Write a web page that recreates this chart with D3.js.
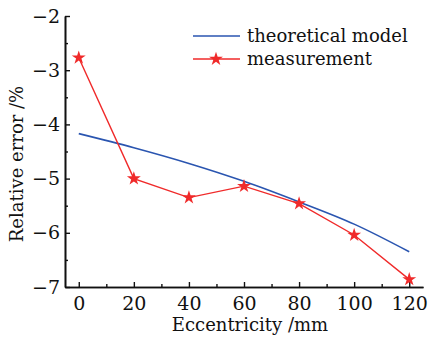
<!DOCTYPE html>
<html>
<head>
<meta charset="utf-8">
<script src="https://cdn.jsdelivr.net/npm/d3@7"></script>
<style>
  body { margin: 0; background: #fff; }
  svg text { font-family: "DejaVu Serif", serif; fill: #111; }
</style>
</head>
<body>
<div id="vis"></div>
<script>
// chart values
const eccentricity = [0, 20, 40, 60, 80, 100, 120]
const theoretical = [-4.17, -4.43, -4.72, -5.05, -5.43, -5.84, -6.35]
const measured = [-2.77, -5.00, -5.35, -5.14, -5.46, -6.04, -6.86]
const xTicks = [0, 20, 40, 60, 80, 100, 120]
const yTicks = [-7, -6, -5, -4, -3, -2]
const seriesNames = ['theoretical model', 'measurement']

const W = 428, H = 337
const margin = {left: 65, top: 16, right: 5, bottom: 50}

const svg = d3.select('#vis').append('svg')
    .attr('width', W)
    .attr('height', H)

const x = d3.scaleLinear([-5, 125], [margin.left, W - margin.right])
const y = d3.scaleLinear([-7, -2], [H - margin.bottom, margin.top])

// axes, ticks point inward
const xAxis = d3.axisBottom(x).tickValues(xTicks).tickSize(-5).tickPadding(10).tickSizeOuter(0)
const xMinor = d3.axisBottom(x).tickValues([10, 30, 50, 70, 90, 110]).tickSize(-3).tickFormat('').tickSizeOuter(0)
const yAxis = d3.axisLeft(y).tickValues(yTicks).tickSize(-5).tickPadding(5).tickSizeOuter(0)
    .tickFormat(d => '\u2212' + Math.abs(d))
const yMinor = d3.axisLeft(y).tickValues([-6.5, -5.5, -4.5, -3.5, -2.5]).tickSize(-3).tickFormat('').tickSizeOuter(0)

function styleAxis(g){
    g.select('.domain').attr('stroke', '#111').attr('stroke-width', 1.6)
    g.selectAll('.tick line').attr('stroke', '#111').attr('stroke-width', 1.4)
    g.selectAll('.tick text').attr('font-size', 19).attr('font-family', '"DejaVu Serif", serif')
}

svg.append('g').attr('transform', `translate(0,${y(-7)})`).call(xMinor).call(styleAxis)
svg.append('g').attr('transform', `translate(0,${y(-7)})`).call(xAxis).call(styleAxis)
svg.append('g').attr('transform', `translate(${x(-5)},0)`).call(yMinor).call(styleAxis)
svg.append('g').attr('transform', `translate(${x(-5)},0)`).call(yAxis).call(styleAxis)

// axis titles
svg.append('text')
    .attr('x', 250)
    .attr('y', 331)
    .attr('text-anchor', 'middle')
    .attr('font-size', 18)
    .text('Eccentricity /mm')

svg.append('text')
    .attr('transform', `translate(23,164) rotate(-90)`)
    .attr('text-anchor', 'middle')
    .attr('font-size', 18)
    .text('Relative error /%')

// lines
const line = d3.line()
    .x(d => x(d[0]))
    .y(d => y(d[1]))

const theoData = eccentricity.map((e, i) => [e, theoretical[i]])
const measData = eccentricity.map((e, i) => [e, measured[i]])

svg.append('path')
    .datum(theoData)
    .attr('d', d3.line().curve(d3.curveMonotoneX).x(d => x(d[0])).y(d => y(d[1])))
    .attr('fill', 'none')
    .attr('stroke', '#2a55b0')
    .attr('stroke-width', 1.6)

svg.append('path')
    .datum(measData)
    .attr('d', line)
    .attr('fill', 'none')
    .attr('stroke', '#f02a2a')
    .attr('stroke-width', 1.4)

const star = d3.symbol().type(d3.symbolStar).size(60)

svg.selectAll('.star')
    .data(measData)
    .enter()
    .append('path')
        .attr('class', 'star')
        .attr('d', star)
        .attr('transform', d => `translate(${x(d[0])},${y(d[1])})`)
        .attr('fill', '#f02a2a')

// legend
const legend = svg.append('g').attr('transform', 'translate(193,36)')
legend.append('line')
    .attr('x1', 0).attr('x2', 47).attr('y1', 0).attr('y2', 0)
    .attr('stroke', '#2a55b0').attr('stroke-width', 1.6)
legend.append('text')
    .attr('x', 54).attr('y', 6)
    .attr('font-size', 18)
    .text(seriesNames[0])
legend.append('line')
    .attr('x1', 0).attr('x2', 47).attr('y1', 23).attr('y2', 23)
    .attr('stroke', '#f02a2a').attr('stroke-width', 1.4)
legend.append('path')
    .attr('d', star)
    .attr('transform', 'translate(23,23)')
    .attr('fill', '#f02a2a')
legend.append('text')
    .attr('x', 54).attr('y', 29)
    .attr('font-size', 18)
    .text(seriesNames[1])
</script>
</body>
</html>
